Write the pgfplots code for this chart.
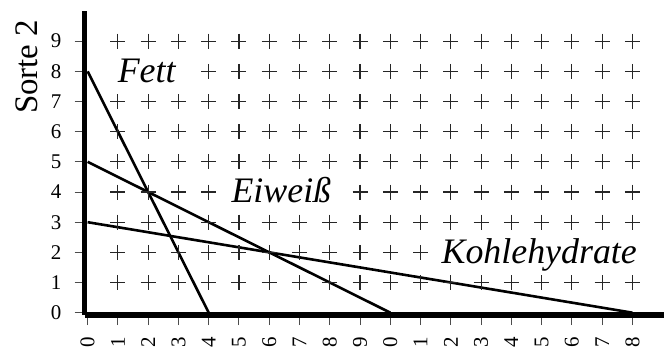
\documentclass[border=0pt]{standalone}
\usepackage{pgfplots}
\pgfplotsset{compat=1.18}
\usepackage{pgfplotstable}
\usepackage{fontspec}
\setmainfont{Liberation Serif}

\pgfplotstableread{
x y
1 9
2 9
3 9
4 9
5 9
6 9
7 9
8 9
9 9
10 9
11 9
12 9
13 9
14 9
15 9
16 9
17 9
18 9
4 8
5 8
6 8
7 8
8 8
9 8
10 8
11 8
12 8
13 8
14 8
15 8
16 8
17 8
18 8
1 7
2 7
3 7
4 7
5 7
6 7
7 7
8 7
9 7
10 7
11 7
12 7
13 7
14 7
15 7
16 7
17 7
18 7
1 6
2 6
3 6
4 6
5 6
6 6
7 6
8 6
9 6
10 6
11 6
12 6
13 6
14 6
15 6
16 6
17 6
18 6
1 5
2 5
3 5
4 5
5 5
6 5
7 5
8 5
9 5
10 5
11 5
12 5
13 5
14 5
15 5
16 5
17 5
18 5
1 4
2 4
3 4
4 4
9 4
10 4
11 4
12 4
13 4
14 4
15 4
16 4
17 4
18 4
1 3
2 3
3 3
4 3
5 3
6 3
7 3
8 3
9 3
10 3
11 3
12 3
13 3
14 3
15 3
16 3
17 3
18 3
1 2
2 2
3 2
4 2
5 2
6 2
7 2
8 2
9 2
10 2
11 2
1 1
2 1
3 1
4 1
5 1
6 1
7 1
8 1
9 1
10 1
11 1
12 1
13 1
14 1
15 1
16 1
17 1
18 1
}\gridpoints

\begin{document}
\begin{tikzpicture}
\begin{axis}[
  scale only axis,
  width=579.6bp, height=304.1bp,
  xmin=-0.1, xmax=19.05,
  ymin=-0.08, ymax=10,
  axis x line=bottom, axis y line=left,
  axis line style={line width=5.5bp, -},
  clip=false,
  xtick={0,1,...,18},
  xticklabels={0,1,2,3,4,5,6,7,8,9,0,1,2,3,4,5,6,7,8},
  ytick={0,1,...,9},
  yticklabels={0,1,2,3,4,5,6,7,8,9},
  tick align=outside,
  major tick length=10bp,
  tick style={line width=1bp, black!70},
  tick label style={font=\fontsize{21}{21}\selectfont},
  xticklabel style={rotate=90, anchor=east, inner sep=0pt},
  yticklabel style={anchor=east, inner sep=0pt},
  xticklabel shift=12bp,
  yticklabel shift=13bp,
]
\addplot[only marks, mark=+, mark size=7.5bp, mark options={line width=1.1bp, black!85}] table[x=x,y=y] {\gridpoints};
\addplot[black, line width=2.6bp] coordinates {(0,8) (4,0)};
\addplot[black, line width=2.6bp] coordinates {(0,5) (10,0)};
\addplot[black, line width=2.6bp] coordinates {(0,3) (18,0)};
\node[anchor=base, font=\fontsize{36}{36}\selectfont\itshape, inner sep=0pt] at (axis cs:1.95,7.62) {Fett};
\node[anchor=base, font=\fontsize{36}{36}\selectfont\itshape, inner sep=0pt] at (axis cs:6.4,3.65) {Eiweiß};
\node[anchor=base, font=\fontsize{36}{36}\selectfont\itshape, inner sep=0pt] at (axis cs:14.92,1.645) {Kohlehydrate};
\node[anchor=base, rotate=90, font=\fontsize{33}{33}\selectfont, inner sep=0pt] at (axis cs:-1.65,8.15) {Sorte 2};
\end{axis}
\pgfresetboundingbox
\path (-84.6bp,-35.9bp) rectangle (579.4bp,315.1bp);
\end{tikzpicture}
\end{document}
